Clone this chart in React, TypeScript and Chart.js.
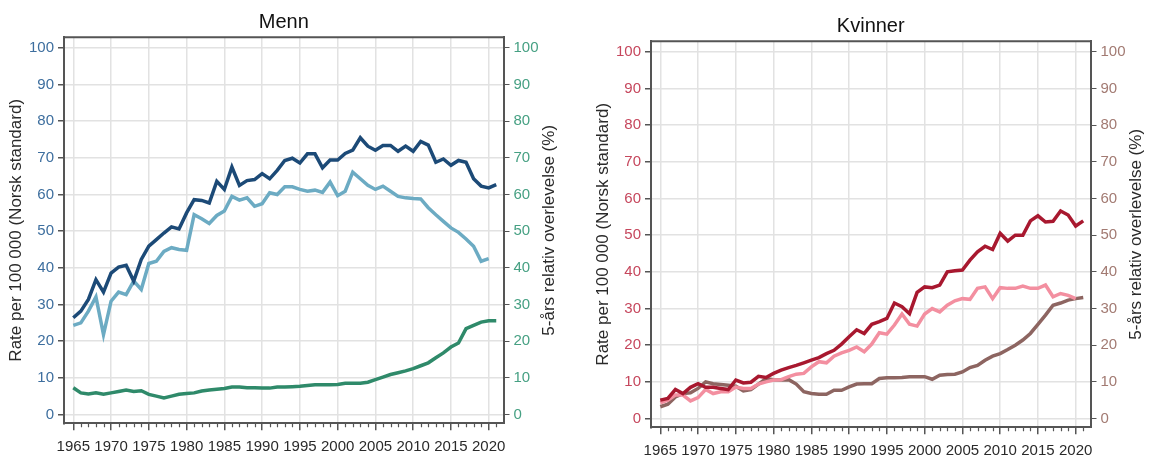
import React, { useEffect, useRef } from 'react';
import { Chart, registerables } from 'chart.js';

Chart.register(...registerables);

// Years on the horizontal axis
const years = [
  1965, 1966, 1967, 1968, 1969, 1970, 1971, 1972, 1973, 1974,
  1975, 1976, 1977, 1978, 1979, 1980, 1981, 1982, 1983, 1984,
  1985, 1986, 1987, 1988, 1989, 1990, 1991, 1992, 1993, 1994,
  1995, 1996, 1997, 1998, 1999, 2000, 2001, 2002, 2003, 2004,
  2005, 2006, 2007, 2008, 2009, 2010, 2011, 2012, 2013, 2014,
  2015, 2016, 2017, 2018, 2019, 2020, 2021,
];

// Men: incidence and mortality rate per 100 000, 5-year relative survival (%)
const menIncidence = [
  26.4, 28.2, 31.4, 36.8, 33.4, 38.6, 40.2, 40.7, 36.4, 42.3,
  45.9, 47.7, 49.5, 51.2, 50.6, 55.0, 58.6, 58.4, 57.7, 63.6,
  61.4, 67.5, 62.5, 63.8, 64.1, 65.7, 64.3, 66.6, 69.3, 69.9,
  68.6, 71.1, 71.1, 67.3, 69.4, 69.4, 71.2, 72.1, 75.5, 73.2,
  72.1, 73.4, 73.4, 71.8, 73.2, 71.8, 74.5, 73.5, 68.8, 69.7,
  68.0, 69.3, 68.8, 64.3, 62.3, 61.8, 62.7,
];
const menMortality = [
  24.3, 25.0, 28.2, 32.1, 21.8, 30.9, 33.4, 32.7, 36.4, 34.1,
  41.2, 41.8, 44.5, 45.5, 45.0, 44.8, 54.5, 53.4, 52.1, 54.3,
  55.5, 59.5, 58.5, 59.1, 56.8, 57.5, 60.5, 60.0, 62.1, 62.1,
  61.4, 60.9, 61.2, 60.6, 63.4, 59.7, 60.9, 66.1, 64.3, 62.5,
  61.4, 62.3, 60.9, 59.5, 59.1, 58.9, 58.8, 56.4, 54.5, 52.7,
  50.9, 49.7, 47.9, 45.9, 41.8, 42.5,
];
const menSurvival = [
  7.3, 5.9, 5.6, 5.9, 5.5, 5.9, 6.3, 6.7, 6.3, 6.5,
  5.5, 5.0, 4.5, 5.0, 5.5, 5.7, 5.9, 6.4, 6.7, 6.9,
  7.1, 7.5, 7.5, 7.3, 7.3, 7.2, 7.2, 7.5, 7.5, 7.6,
  7.7, 7.9, 8.1, 8.1, 8.1, 8.2, 8.5, 8.5, 8.5, 8.8,
  9.5, 10.2, 10.9, 11.4, 11.9, 12.5, 13.3, 14.1, 15.5, 16.8,
  18.4, 19.5, 23.4, 24.3, 25.2, 25.6, 25.6,
];

// Women: incidence and mortality rate per 100 000, 5-year relative survival (%)
const womenIncidence = [
  5.0, 5.5, 7.9, 6.8, 8.5, 9.5, 8.5, 8.5, 8.2, 7.9,
  10.5, 9.7, 9.9, 11.5, 11.2, 12.3, 13.2, 13.9, 14.5, 15.2,
  15.9, 16.6, 17.7, 18.6, 20.3, 22.3, 24.2, 23.2, 25.7, 26.4,
  27.3, 31.5, 30.5, 28.6, 34.4, 35.9, 35.7, 36.4, 40.0, 40.3,
  40.5, 43.2, 45.5, 47.0, 46.1, 50.5, 48.4, 50.0, 50.0, 53.9,
  55.3, 53.6, 53.8, 56.6, 55.5, 52.5, 53.9,
];
const womenMortality = [
  4.3, 5.0, 6.4, 6.4, 4.8, 5.7, 7.9, 6.8, 7.3, 7.3,
  8.6, 8.2, 8.2, 9.4, 10.0, 10.5, 10.6, 11.4, 12.1, 12.3,
  14.1, 15.5, 15.2, 17.0, 17.9, 18.6, 19.5, 18.2, 20.3, 23.4,
  23.0, 25.5, 28.5, 25.7, 25.2, 28.5, 30.0, 29.1, 30.9, 32.1,
  32.7, 32.5, 35.5, 35.9, 32.7, 35.7, 35.5, 35.5, 36.1, 35.5,
  35.5, 36.4, 33.2, 34.1, 33.6, 32.7,
];
const womenSurvival = [
  3.2, 3.9, 5.9, 6.8, 7.0, 8.2, 10.0, 9.5, 9.3, 9.1,
  8.8, 7.5, 7.9, 9.4, 10.9, 10.6, 10.5, 10.6, 9.4, 7.3,
  6.8, 6.6, 6.6, 7.7, 7.7, 8.6, 9.4, 9.5, 9.5, 10.9,
  11.1, 11.1, 11.2, 11.4, 11.4, 11.4, 10.7, 11.8, 12.0, 12.1,
  12.7, 13.9, 14.5, 15.9, 17.0, 17.7, 18.8, 20.0, 21.4, 23.2,
  25.7, 28.2, 30.9, 31.5, 32.3, 32.7, 33.0,
];

// Tick values for both vertical axes
const valueTicks = [0, 10, 20, 30, 40, 50, 60, 70, 80, 90, 100];

const leftAxisTitle = 'Rate per 100 000 (Norsk standard)';
const rightAxisTitle = '5-års relativ overlevelse (%)';

const FONT = '"Liberation Sans", Arial, Helvetica, sans-serif';
const GRID = '#e2e2e2';
const FRAME = '#555555';
const TEXT = '#2a2a2a';

const X_MIN = 1963.77;
const X_MAX = 2021.96;
const Y_MIN = -2.4;
const Y_MAX = 102.9;

// plot area edges inside each canvas
const AREA_TOP = 37.3;
const AREA_BOTTOM = 423.3;
const AREA_LEFT = 64;
const AREA_RIGHT = 503.5;

type Series = { values: number[]; color: string; axis: 'y' | 'y2' };

type PanelProps = {
  title: string;
  width: number;
  left: number;
  top: number;
  series: Series[];
  leftTickColor: string;
  rightTickColor: string;
};

const toPoints = (values: number[]) => values.map((v, i) => ({ x: years[i], y: v }));

const panelDecor = {
  id: 'panelDecor',
  beforeDatasetsDraw(chart: any) {
    const { ctx, chartArea } = chart;
    ctx.save();
    // top edge of the plot frame
    ctx.strokeStyle = FRAME;
    ctx.lineWidth = 2;
    ctx.beginPath();
    ctx.moveTo(chartArea.left - 1, chartArea.top);
    ctx.lineTo(chartArea.right + 1, chartArea.top);
    ctx.stroke();
    // short minor ticks for every year between the 5-year marks
    const xs = chart.scales.x;
    ctx.lineWidth = 1.2;
    ctx.beginPath();
    years.forEach((yr) => {
      if (yr % 5 === 0) return;
      const px = Math.round(xs.getPixelForValue(yr)) + 0.5;
      ctx.moveTo(px, chartArea.bottom);
      ctx.lineTo(px, chartArea.bottom + 4);
    });
    ctx.stroke();
    ctx.restore();
  },
  afterDraw(chart: any) {
    const { ctx, chartArea } = chart;
    const opts = chart.options.plugins.panelDecor;
    ctx.save();
    ctx.fillStyle = '#111';
    ctx.font = `20px ${FONT}`;
    ctx.textAlign = 'center';
    ctx.textBaseline = 'middle';
    ctx.fillText(opts.title, (chartArea.left + chartArea.right) / 2, 22);
    // right-hand axis title, reading bottom to top
    ctx.fillStyle = TEXT;
    ctx.font = `17px ${FONT}`;
    ctx.translate(chartArea.right + opts.rightTitleOffset, (chartArea.top + chartArea.bottom) / 2);
    ctx.rotate(-Math.PI / 2);
    ctx.fillText(rightAxisTitle, 0, 0);
    ctx.restore();
  },
};

function Panel({ title, width, left, top, series, leftTickColor, rightTickColor }: PanelProps) {
  const ref = useRef<HTMLCanvasElement | null>(null);
  const height = 456 - top;

  useEffect(() => {
    if (!ref.current) return;
    const tickFont = { family: FONT, size: 15 };
    const setValueTicks = (scale: any) => {
      scale.ticks = valueTicks.map((v) => ({ value: v }));
    };
    const chart = new Chart(ref.current, {
      type: 'line',
      data: {
        datasets: series.map((s) => ({
          data: toPoints(s.values),
          borderColor: s.color,
          backgroundColor: s.color,
          borderWidth: 3.5,
          pointRadius: 0,
          tension: 0,
          fill: false,
          yAxisID: s.axis,
        })),
      },
      plugins: [panelDecor],
      options: {
        animation: false,
        responsive: false,
        maintainAspectRatio: false,
        devicePixelRatio: 1,
        layout: { padding: { top: AREA_TOP, left: 0, right: 0, bottom: 0 } },
        plugins: {
          legend: { display: false },
          tooltip: { enabled: false },
          title: { display: false },
          panelDecor: { title, rightTitleOffset: 46 },
        } as any,
        scales: {
          x: {
            type: 'linear',
            min: X_MIN,
            max: X_MAX,
            afterBuildTicks: (scale: any) => {
              scale.ticks = years.map((v) => ({ value: v }));
            },
            afterFit: (scale: any) => {
              scale.height = height - AREA_BOTTOM;
            },
            grid: {
              color: (ctx: any) => (ctx.tick && ctx.tick.value % 5 === 0 ? GRID : 'rgba(0,0,0,0)'),
              lineWidth: 1.5,
              tickColor: (ctx: any) => (ctx.tick && ctx.tick.value % 5 === 0 ? FRAME : 'rgba(0,0,0,0)'),
              tickLength: 7,
            },
            border: { display: true, color: FRAME, width: 2 },
            ticks: {
              autoSkip: false,
              maxRotation: 0,
              minRotation: 0,
              padding: 8,
              color: TEXT,
              font: tickFont,
              callback: (v: any) => (Number(v) % 5 === 0 ? String(v) : ''),
            },
          },
          y: {
            type: 'linear',
            position: 'left',
            min: Y_MIN,
            max: Y_MAX,
            afterBuildTicks: setValueTicks,
            afterFit: (scale: any) => {
              scale.width = AREA_LEFT;
            },
            grid: { color: GRID, lineWidth: 1.5, tickColor: FRAME, tickLength: 6 },
            border: { display: true, color: FRAME, width: 2 },
            ticks: { padding: 4, color: leftTickColor, font: tickFont },
            title: {
              display: true,
              text: leftAxisTitle,
              color: TEXT,
              font: { family: FONT, size: 17 },
              padding: { top: 6, bottom: 0 },
            },
          },
          y2: {
            type: 'linear',
            position: 'right',
            min: Y_MIN,
            max: Y_MAX,
            afterBuildTicks: setValueTicks,
            afterFit: (scale: any) => {
              scale.width = width - AREA_RIGHT;
            },
            grid: { drawOnChartArea: false, tickColor: FRAME, tickLength: 6 },
            border: { display: true, color: FRAME, width: 2 },
            ticks: { padding: 4, color: rightTickColor, font: tickFont },
          },
        },
      } as any,
    });
    return () => chart.destroy();
  }, [title, width, height, series, leftTickColor, rightTickColor]);

  return (
    <canvas
      ref={ref}
      width={width}
      height={height}
      style={{ position: 'absolute', left, top, display: 'block' }}
    />
  );
}

const menSeries: Series[] = [
  { values: menIncidence, color: '#1c4a77', axis: 'y' },
  { values: menMortality, color: '#6cabc3', axis: 'y' },
  { values: menSurvival, color: '#2f8a6a', axis: 'y2' },
];

const womenSeries: Series[] = [
  { values: womenIncidence, color: '#a8182f', axis: 'y' },
  { values: womenMortality, color: '#f38fa0', axis: 'y' },
  { values: womenSurvival, color: '#8d6561', axis: 'y2' },
];

export default function App() {
  return (
    <div
      style={{
        position: 'absolute',
        left: 0,
        top: 0,
        width: 1152,
        height: 456,
        background: '#ffffff',
        overflow: 'hidden',
      }}
    >
      <Panel
        title="Menn"
        width={576}
        left={0}
        top={0}
        series={menSeries}
        leftTickColor="#3d6e9e"
        rightTickColor="#46a083"
      />
      <Panel
        title="Kvinner"
        width={565}
        left={587}
        top={4}
        series={womenSeries}
        leftTickColor="#c6475d"
        rightTickColor="#a27a72"
      />
    </div>
  );
}
